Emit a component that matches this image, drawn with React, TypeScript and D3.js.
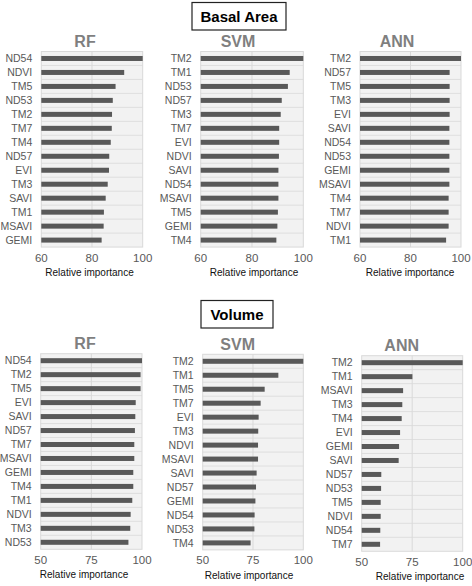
import React from "react";
import * as d3 from "d3";

// ---------- DATA ----------
const baRfCats = ["ND54", "NDVI", "TM5", "ND53", "TM2", "TM7", "TM4", "ND57", "EVI", "TM3", "SAVI", "TM1", "MSAVI", "GEMI"];
const baRfVals = [100, 92.7, 89.3, 88.2, 87.9, 87.8, 87.4, 86.8, 86.7, 86.2, 85.4, 84.7, 84.6, 83.8];

const baSvmCats = ["TM2", "TM1", "ND53", "ND57", "TM3", "TM7", "EVI", "NDVI", "SAVI", "ND54", "MSAVI", "TM5", "GEMI", "TM4"];
const baSvmVals = [100, 94.7, 94.0, 91.6, 91.2, 90.6, 90.6, 90.5, 90.3, 90.3, 90.3, 90.1, 89.9, 89.5];

const baAnnCats = ["TM2", "ND57", "TM5", "TM3", "EVI", "SAVI", "ND54", "ND53", "GEMI", "MSAVI", "TM4", "TM7", "NDVI", "TM1"];
const baAnnVals = [100, 95.5, 95.5, 95.5, 95.5, 95.4, 95.4, 95.4, 95.4, 95.4, 95.1, 95.1, 95.1, 94.1];

const volRfCats = ["ND54", "TM2", "TM5", "EVI", "SAVI", "ND57", "TM7", "MSAVI", "GEMI", "TM4", "TM1", "NDVI", "TM3", "ND53"];
const volRfVals = [100, 99.3, 99.3, 96.9, 96.7, 96.5, 96.2, 96.2, 95.7, 95.7, 95.2, 94.4, 94.2, 93.3];

const volSvmCats = ["TM2", "TM1", "TM5", "TM7", "EVI", "TM3", "NDVI", "MSAVI", "SAVI", "ND57", "GEMI", "ND54", "ND53", "TM4"];
const volSvmVals = [100, 87.6, 80.8, 78.8, 77.8, 77.6, 77.5, 77.5, 76.8, 76.5, 76.2, 75.8, 75.7, 73.8];

const volAnnCats = ["TM2", "TM1", "MSAVI", "TM3", "TM4", "EVI", "GEMI", "SAVI", "ND57", "ND53", "TM5", "NDVI", "ND54", "TM7"];
const volAnnVals = [100, 75.1, 70.5, 70.1, 69.8, 69.0, 68.5, 68.3, 59.7, 59.6, 59.4, 59.4, 59.2, 59.1];

const baTicks = [60, 80, 100];
const volTicks = [50, 75, 100];

const sectionTitles = ["Basal Area", "Volume"];
const modelNames = ["RF", "SVM", "ANN"];
const axisTitle = "Relative importance";

// ---------- STYLE ----------
const FONT = "'Liberation Sans', Arial, Helvetica, sans-serif";
const BAR = "#595959";
const BG = "#f2f2f2";
const GRID = "#d9d9d9";
const LABEL = "#595959";

type PanelProps = {
  cats: string[];
  vals: number[];
  ticks: number[];
  title: string;
  left: number;
  right: number;
  top: number;
  titleX: number;
  axisX: number;
};

function Panel({ cats, vals, ticks, title, left, right, top, titleX, axisX }: PanelProps) {
  const band = 13.97;
  const bottom = top + band * cats.length;
  const x = d3.scaleLinear().domain([ticks[0], ticks[ticks.length - 1]]).range([left, right]);
  const y = d3.scaleBand<string>().domain(cats).range([top, bottom]);
  const barH = 5;
  return (
    <g>
      <rect x={left} y={top} width={right - left} height={bottom - top} fill={BG} stroke={GRID} strokeWidth={1} />
      {cats.slice(1).map((c) => (
        <line key={"h" + c} x1={left} x2={right} y1={y(c)!} y2={y(c)!} stroke={GRID} strokeWidth={0.8} />
      ))}
      {ticks.slice(1, -1).map((t) => (
        <line key={"v" + t} x1={x(t)} x2={x(t)} y1={top} y2={bottom} stroke={GRID} strokeWidth={1} />
      ))}
      {cats.map((c, i) => (
        <rect
          key={"b" + c}
          x={left}
          y={y(c)! + y.bandwidth() / 2 - barH / 2}
          width={x(vals[i]) - left}
          height={barH}
          fill={BAR}
        />
      ))}
      {cats.map((c) => (
        <text
          key={"l" + c}
          x={left - 9}
          y={y(c)! + y.bandwidth() / 2}
          dy="0.36em"
          textAnchor="end"
          fontSize={10.5}
          fill={LABEL}
          fontFamily={FONT}
        >
          {c}
        </text>
      ))}
      {ticks.map((t) => (
        <text key={"t" + t} x={x(t)} y={bottom + 14.5} textAnchor="middle" fontSize={11.5} fill={LABEL} fontFamily={FONT}>
          {t}
        </text>
      ))}
      <text x={axisX} y={bottom + 29} textAnchor="middle" fontSize={10} fill="#111" fontFamily={FONT}>
        {axisTitle}
      </text>
      <text x={titleX} y={top - 4.5} textAnchor="middle" fontSize={16} fontWeight="bold" fill="#7f7f7f" fontFamily={FONT}>
        {title}
      </text>
    </g>
  );
}

export default function App() {
  return (
    <svg
      width={472}
      height={586}
      viewBox="0 0 472 586"
      style={{ position: "absolute", left: 0, top: 0, background: "#fff" }}
    >
      <rect x={0} y={0} width={472} height={586} fill="#fff" />
      {/* Section headers */}
      <rect x={192} y={2.5} width={94} height={27.5} fill="#fff" stroke="#222" strokeWidth={1.2} />
      <text x={239} y={21.5} textAnchor="middle" fontSize={15} fontWeight="bold" fill="#000" fontFamily={FONT}>
        {sectionTitles[0]}
      </text>
      <rect x={201} y={300.5} width={72} height={27.5} fill="#fff" stroke="#222" strokeWidth={1.2} />
      <text x={237} y={319.5} textAnchor="middle" fontSize={15} fontWeight="bold" fill="#000" fontFamily={FONT}>
        {sectionTitles[1]}
      </text>

      <Panel cats={baRfCats} vals={baRfVals} ticks={baTicks} title={modelNames[0]} left={41.3} right={142.7} top={51.5} titleX={85} axisX={89.5} />
      <Panel cats={baSvmCats} vals={baSvmVals} ticks={baTicks} title={modelNames[1]} left={200.7} right={303.3} top={51.5} titleX={238} axisX={254} />
      <Panel cats={baAnnCats} vals={baAnnVals} ticks={baTicks} title={modelNames[2]} left={360} right={461} top={51.5} titleX={397} axisX={410} />

      <Panel cats={volRfCats} vals={volRfVals} ticks={volTicks} title={modelNames[0]} left={40.7} right={142} top={353.7} titleX={85} axisX={84} />
      <Panel cats={volSvmCats} vals={volSvmVals} ticks={volTicks} title={modelNames[1]} left={202.7} right={303.3} top={354.3} titleX={237.7} axisX={249} />
      <Panel cats={volAnnCats} vals={volAnnVals} ticks={volTicks} title={modelNames[2]} left={361.7} right={462.7} top={355.7} titleX={401.7} axisX={420} />
    </svg>
  );
}
